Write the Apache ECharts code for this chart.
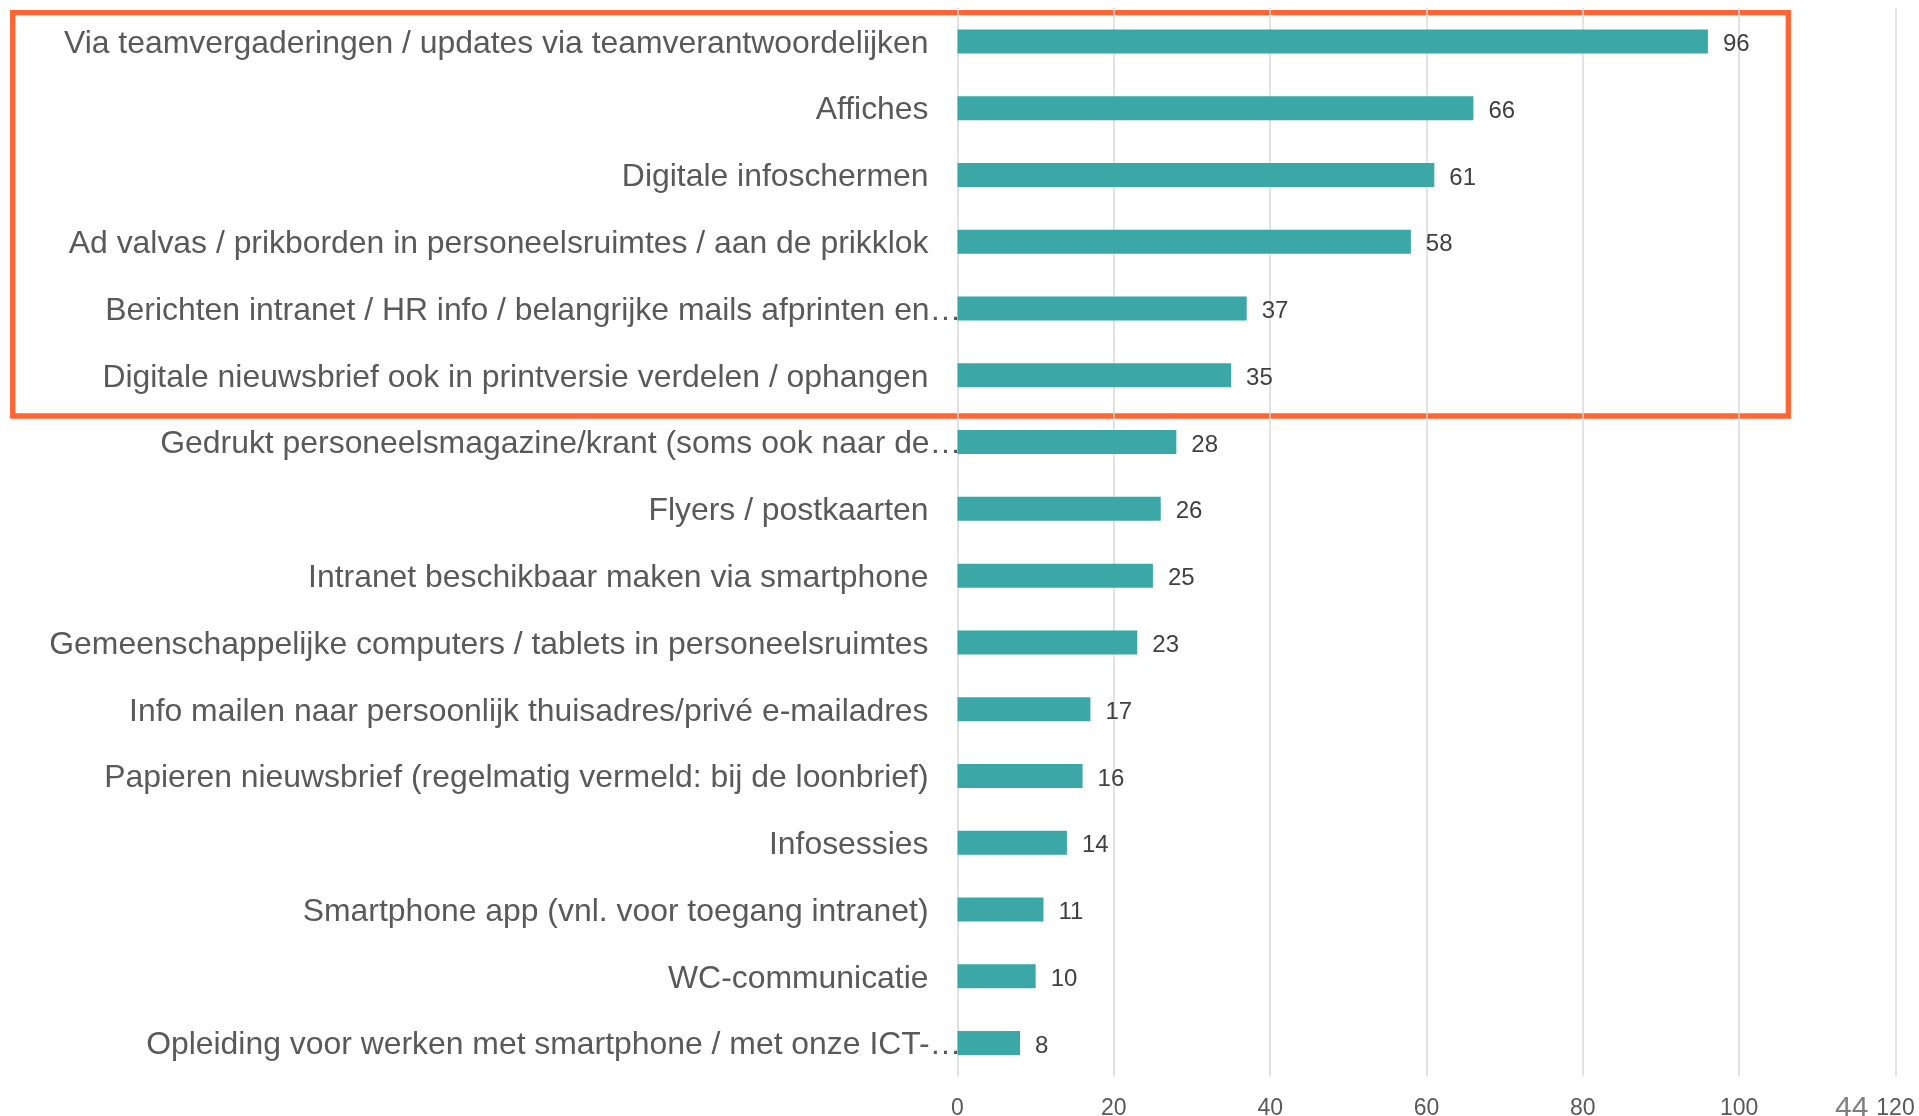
<!DOCTYPE html>
<html>
<head>
<meta charset="utf-8">
<script src="https://cdn.jsdelivr.net/npm/echarts@6/dist/echarts.min.js"></script>
<style>
html,body{margin:0;padding:0;background:#fff;}
#chart{width:1919px;height:1116px;}
</style>
</head>
<body>
<div id="chart"></div>
<script>
const categories = [
  "Via teamvergaderingen / updates via teamverantwoordelijken",
  "Affiches",
  "Digitale infoschermen",
  "Ad valvas / prikborden in personeelsruimtes / aan de prikklok",
  "Berichten intranet / HR info / belangrijke mails afprinten en…",
  "Digitale nieuwsbrief ook in printversie verdelen / ophangen",
  "Gedrukt personeelsmagazine/krant (soms ook naar de…",
  "Flyers / postkaarten",
  "Intranet beschikbaar maken via smartphone",
  "Gemeenschappelijke computers / tablets in personeelsruimtes",
  "Info mailen naar persoonlijk thuisadres/privé e-mailadres",
  "Papieren nieuwsbrief (regelmatig vermeld: bij de loonbrief)",
  "Infosessies",
  "Smartphone app (vnl. voor toegang intranet)",
  "WC-communicatie",
  "Opleiding voor werken met smartphone / met onze ICT-…"
];
const values = [96, 66, 61, 58, 37, 35, 28, 26, 25, 23, 17, 16, 14, 11, 10, 8];
const axisMin = 0;
const axisMax = 120;
const axisStep = 20;
const pageNumber = "44";

const FONT = "'Liberation Sans', Arial, sans-serif";
const chart = echarts.init(document.getElementById('chart'), null, {renderer: 'canvas'});
chart.setOption({
  animation: false,
  backgroundColor: '#ffffff',
  grid: {left: 957.5, right: 23.5, top: 8, bottom: 39.5, containLabel: false, outerBoundsMode: 'none'},
  xAxis: {
    type: 'value', min: axisMin, max: axisMax, interval: axisStep,
    axisLine: {show: false}, axisTick: {show: false},
    splitLine: {show: true, lineStyle: {color: '#d9d9d9', width: 1.5}},
    axisLabel: {color: '#595959', fontSize: 23, fontFamily: FONT, margin: 21}
  },
  yAxis: {
    type: 'category', data: categories, inverse: true,
    axisLine: {show: false}, axisTick: {show: false},
    axisLabel: {
      margin: -4, fontFamily: FONT, fontSize: 31.9, color: '#595959',
      formatter: function (v) { return v.endsWith('…') ? '{t|' + v + '}' : '{n|' + v + '}'; },
      rich: {
        t: {fontFamily: FONT, fontSize: 31.9, color: '#595959', padding: [5, 0, 0, 0]},
        n: {fontFamily: FONT, fontSize: 31.9, color: '#595959', padding: [5, 33, 0, 0]}
      }
    }
  },
  series: [{
    type: 'bar', data: values, barWidth: 24,
    itemStyle: {color: '#3ba7a6'},
    label: {show: true, position: 'right', distance: 15, offset: [0, 3], color: '#404040', fontSize: 24, fontFamily: FONT}
  }],
  graphic: [
    {type: 'rect', z: -10, shape: {x: 12.7, y: 12.7, width: 1775.6, height: 403.3},
     style: {fill: 'none', stroke: '#ff6633', lineWidth: 5.3}},
    {type: 'text', z: 10, x: 1835, y: 1124, style: {text: pageNumber, fill: '#7f7f7f', fontSize: 30, fontFamily: FONT, textVerticalAlign: 'bottom', textBaseline: 'alphabetic'}}
  ]
});
</script>
</body>
</html>
